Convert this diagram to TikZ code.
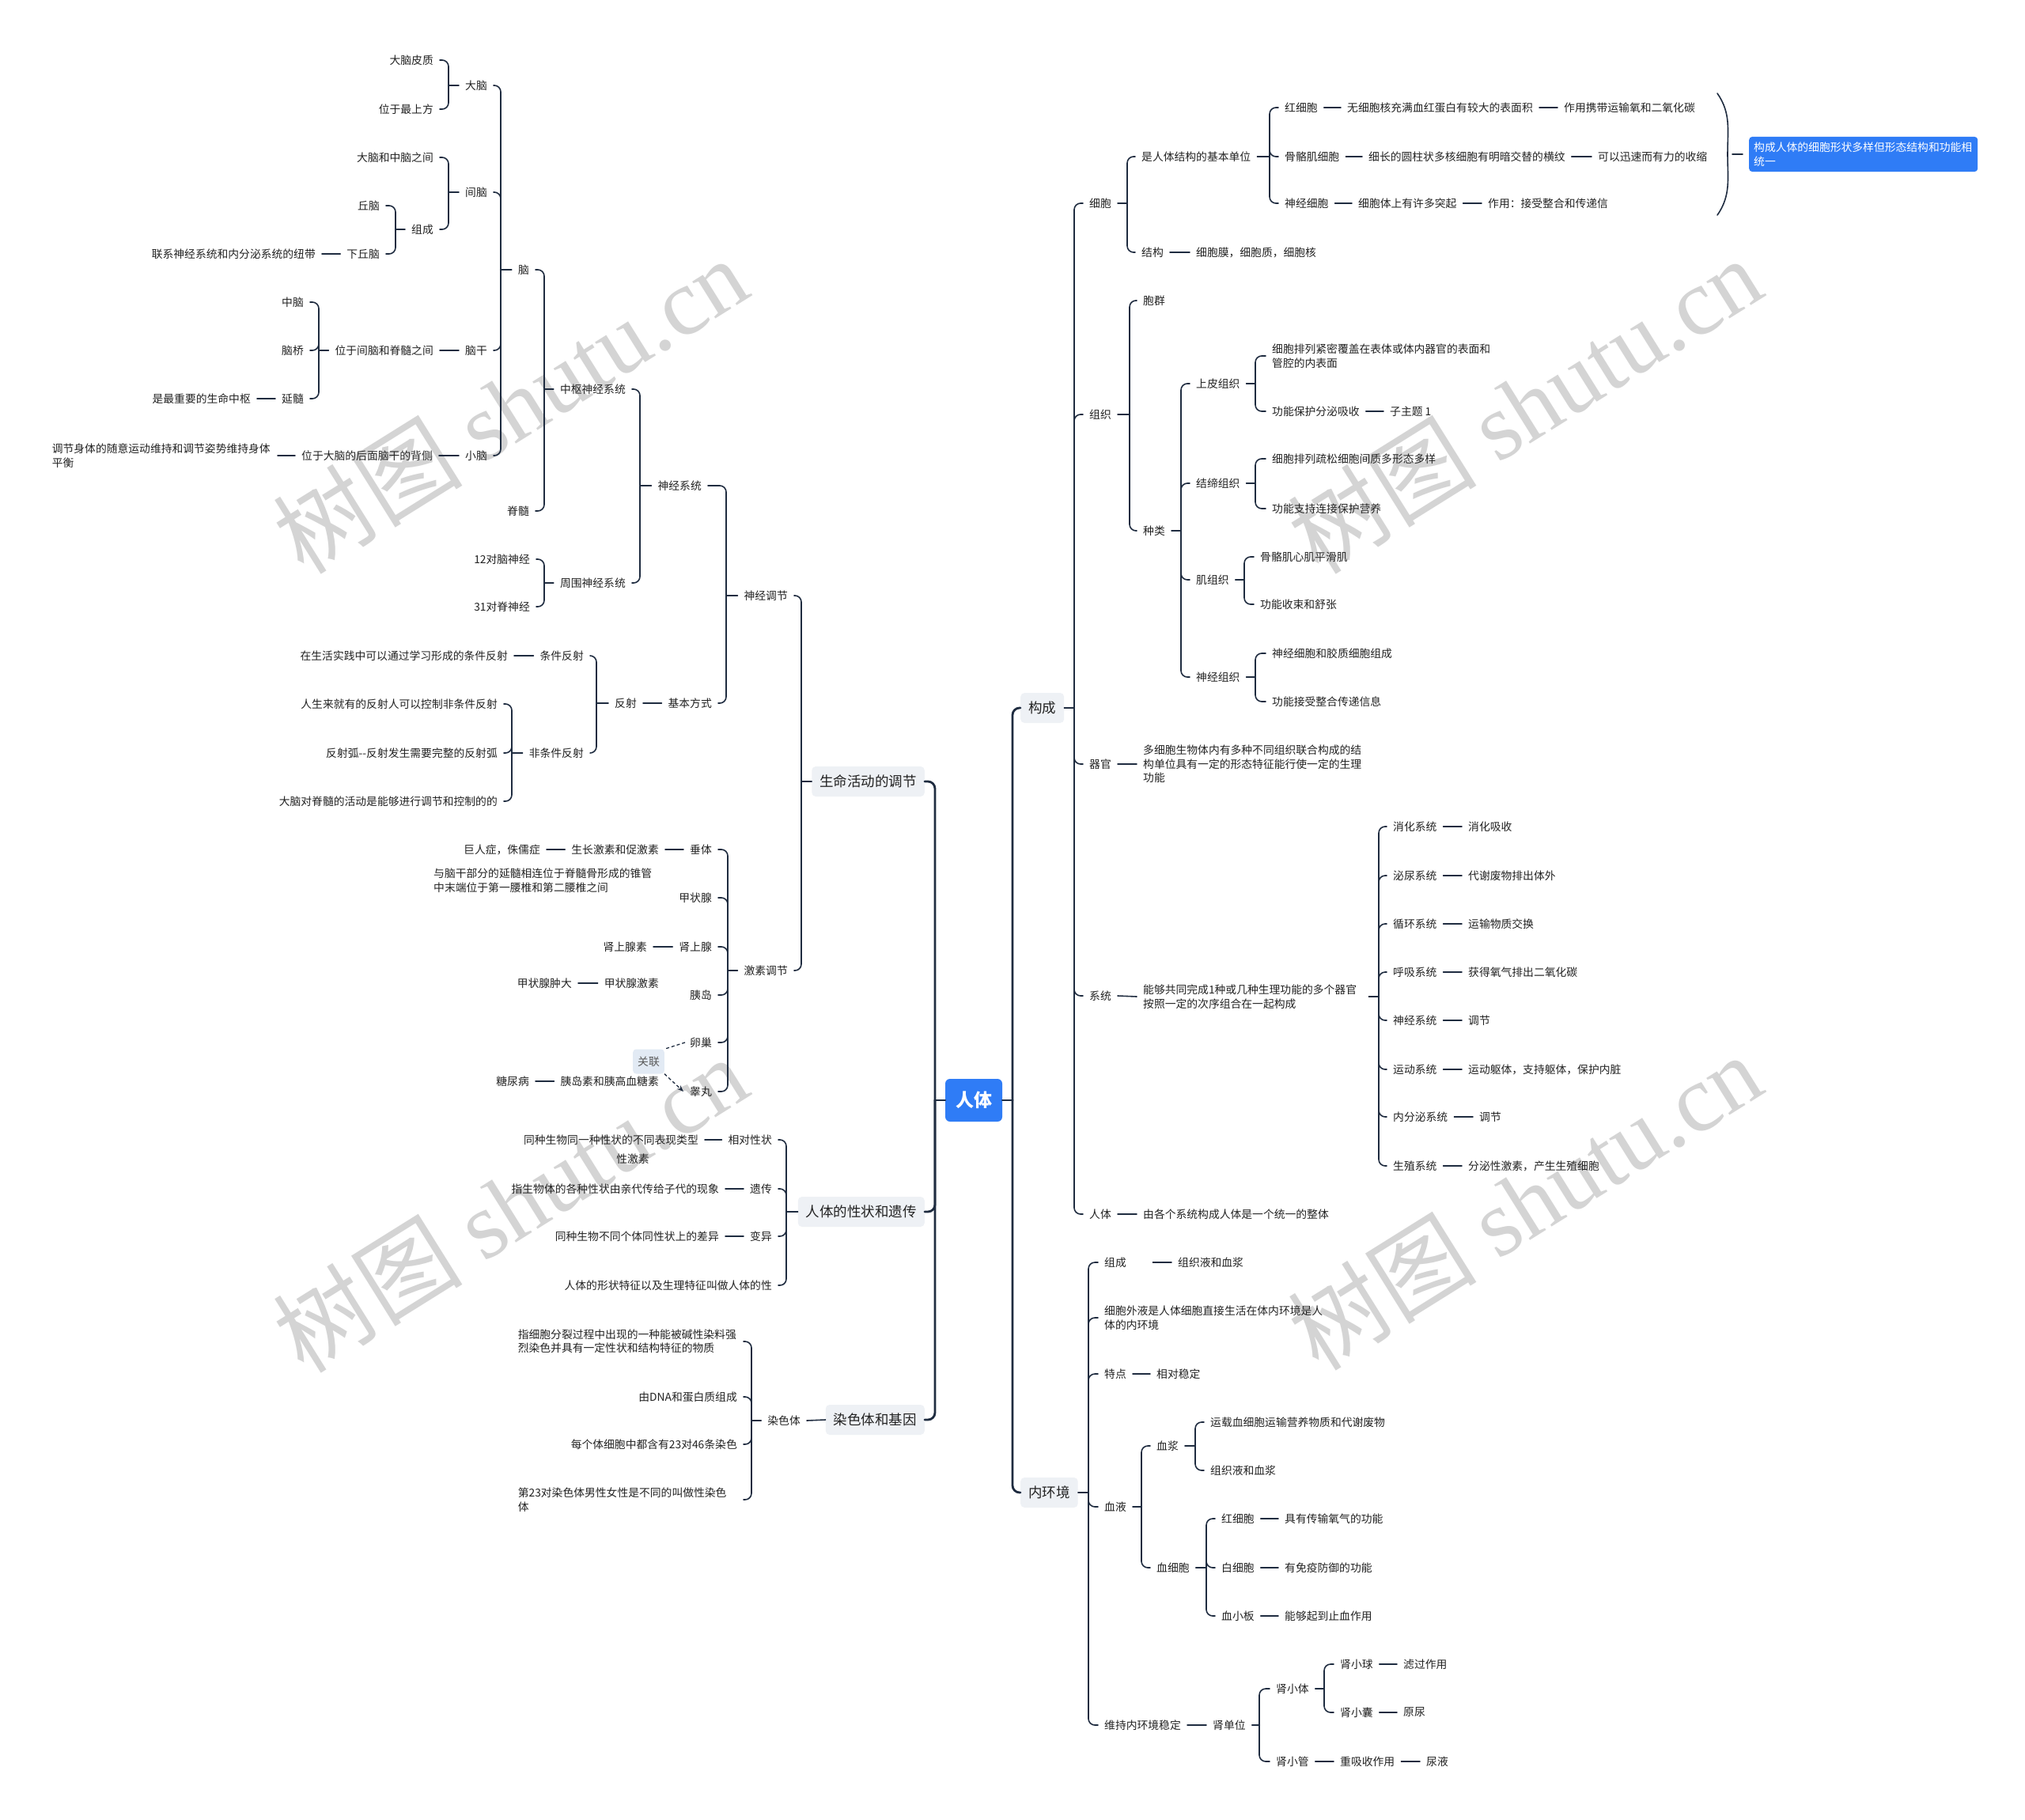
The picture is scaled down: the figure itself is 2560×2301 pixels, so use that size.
\documentclass[tikz,border=0pt]{standalone}
\usepackage{fontspec}
\setmainfont{Noto Sans CJK SC}
\newfontfamily\wmserif{Liberation Serif}
\usetikzlibrary{arrows.meta}
\definecolor{lc}{HTML}{1F2C40}
\definecolor{tc}{HTML}{222222}
\definecolor{boxfill}{HTML}{EEF1F5}
\definecolor{blueone}{HTML}{2F7CF6}
\definecolor{wmc}{HTML}{D4D4D4}
\definecolor{glfill}{HTML}{E2EAF4}
\tikzset{
 txt/.style={font=\fontsize{13.8}{17.5}\selectfont, inner sep=0pt, text=tc},
 L/.style={txt, anchor=east},
 R/.style={txt, anchor=west},
 wrap/.style={text width=277pt, align=left},
 lvl/.style={font=\fontsize{17.5}{21}\selectfont, fill=boxfill, rounded corners=5pt, inner xsep=10pt, inner ysep=0pt, minimum height=38pt, text=tc},
 rootbox/.style={font=\fontsize{23}{26}\selectfont\bfseries, fill=blueone, text=white, rounded corners=6pt, minimum width=72pt, minimum height=54pt, inner sep=0pt},
 conn/.style={draw=lc, line width=1.6pt, line cap=round},
 mainconn/.style={draw=lc, line width=2.8pt, line cap=round, rounded corners=9pt},
 wm/.style={font=\fontsize{120}{120}\selectfont, text=wmc, inner sep=0pt},
 dashconn/.style={draw=lc, line width=1.3pt, dash pattern=on 4pt off 3pt},
}
\newcommand\lbr[4][8pt]{%
 \coordinate (sp) at (#3,0);
 \draw[conn] ([xshift=-#1]#2.west) -- (#2.west -| sp);
 \foreach \kid in {#4}{\draw[conn,rounded corners=8pt] (#2.west -| sp) |- ([xshift=8pt]\kid.east);}%
}
\newcommand\rbr[4][8pt]{%
 \coordinate (sp) at (#3,0);
 \draw[conn] ([xshift=#1]#2.east) -- (#2.east -| sp);
 \foreach \kid in {#4}{\draw[conn,rounded corners=8pt] (#2.east -| sp) |- ([xshift=-8pt]\kid.west);}%
}
\newcommand\ldash[2]{\draw[conn] ([xshift=-8pt]#1.west) -- ([xshift=8pt]#2.east);}
\newcommand\rdash[2]{\draw[conn] ([xshift=8pt]#1.east) -- ([xshift=-8pt]#2.west);}
\begin{document}
\begin{tikzpicture}[x=1pt,y=-1pt]
\useasboundingbox (0,0) rectangle (2560,2301);
\fill[white] (0,0) rectangle (2560,2301);
% watermarks
\node[wm, rotate=32] (wm1) at (645,512) {树图 {\wmserif shutu.cn}};
\node[wm, rotate=32] (wm2) at (645,1522) {树图 {\wmserif shutu.cn}};
\node[wm, rotate=32] (wm3) at (1927,512) {树图 {\wmserif shutu.cn}};
\node[wm, rotate=32] (wm4) at (1927,1519) {树图 {\wmserif shutu.cn}};

% root and level 1
\node[rootbox] (R) at (1231,1391) {人体};
\node[lvl,anchor=east] (A) at (1169,988) {生命活动的调节};
\node[lvl,anchor=east] (B) at (1169,1532) {人体的性状和遗传};
\node[lvl,anchor=east] (C) at (1169,1795) {染色体和基因};
\node[lvl,anchor=west] (D) at (1290,895) {构成};
\node[lvl,anchor=west] (E) at (1290,1887) {内环境};

% ---------- left: 生命活动的调节
\node[L] (a1) at (996,753) {神经调节};
\node[L] (a2) at (996,1227) {激素调节};
\node[L] (b1) at (887,614) {神经系统};
\node[L] (b2) at (900,889) {基本方式};
\node[L] (c1) at (791,492) {中枢神经系统};
\node[L] (c2) at (791,737) {周围神经系统};
\node[L] (d1) at (669,341) {脑};
\node[L] (d2) at (669,646) {脊髓};
\node[L] (e1) at (616,108) {大脑};
\node[L] (e2) at (616,243) {间脑};
\node[L] (e3) at (616,443) {脑干};
\node[L] (e4) at (616,576) {小脑};
\node[L] (f1) at (548,76) {大脑皮质};
\node[L] (f2) at (548,138) {位于最上方};
\node[L] (f3) at (548,199) {大脑和中脑之间};
\node[L] (zc) at (548,290) {组成};
\node[L] (g1) at (480,260) {丘脑};
\node[L] (g2) at (480,321) {下丘脑};
\node[L] (g3) at (399,321) {联系神经系统和内分泌系统的纽带};
\node[L] (h1) at (548,443) {位于间脑和脊髓之间};
\node[L] (h2) at (384,382) {中脑};
\node[L] (h3) at (384,443) {脑桥};
\node[L] (h4) at (384,504) {延髓};
\node[L] (h5) at (317,504) {是最重要的生命中枢};
\node[L] (i1) at (547,576) {位于大脑的后面脑干的背侧};
\node[L,wrap] (i2) at (343,576) {调节身体的随意运动维持和调节姿势维持身体\\平衡};
\node[L] (j1) at (670,707) {12对脑神经};
\node[L] (j2) at (670,767) {31对脊神经};
\node[L] (k1) at (805,889) {反射};
\node[L] (k2) at (738,829) {条件反射};
\node[L] (k3) at (738,952) {非条件反射};
\node[L] (k4) at (642,829) {在生活实践中可以通过学习形成的条件反射};
\node[L] (k5) at (629,890) {人生来就有的反射人可以控制非条件反射};
\node[L] (k6) at (629,952) {反射弧{-}{-}反射发生需要完整的反射弧};
\node[L] (k7) at (629,1013) {大脑对脊髓的活动是能够进行调节和控制的的};
\node[L] (m1) at (900,1074) {垂体};
\node[L] (m2) at (900,1135) {甲状腺};
\node[L] (m3) at (900,1197) {肾上腺};
\node[L] (m4) at (900,1258) {胰岛};
\node[L] (m5) at (900,1318) {卵巢};
\node[L] (m6) at (900,1380) {睾丸};
\node[L] (m7) at (833,1074) {生长激素和促激素};
\node[L] (m8) at (683,1074) {巨人症，侏儒症};
\node[L] (m9) at (818,1197) {肾上腺素};
\node[L] (n1) at (833,1243) {甲状腺激素};
\node[L] (n2) at (723,1243) {甲状腺肿大};
\node[L] (n3) at (833,1367) {胰岛素和胰高血糖素};
\node[L] (n4) at (669,1367) {糖尿病};
\node[R,wrap] (n5) at (548,1113) {与脑干部分的延髓相连位于脊髓骨形成的锥管\\中末端位于第一腰椎和第二腰椎之间};
\node[txt] (n6) at (800,1465) {性激素};
\node[txt, fill=glfill, rounded corners=4pt, inner xsep=6pt, minimum height=31pt, text=black!65] (gl) at (820,1342) {关联};

% ---------- left: 人体的性状和遗传
\node[L] (p1) at (976,1441) {相对性状};
\node[L] (p2) at (976,1503) {遗传};
\node[L] (p3) at (976,1563) {变异};
\node[L] (p4) at (976,1625) {人体的形状特征以及生理特征叫做人体的性};
\node[L] (p5) at (883,1441) {同种生物同一种性状的不同表现类型};
\node[L] (p6) at (909,1503) {指生物体的各种性状由亲代传给子代的现象};
\node[L] (p7) at (909,1563) {同种生物不同个体同性状上的差异};

% ---------- left: 染色体和基因
\node[L] (q1) at (1012,1796) {染色体};
\node[L,wrap] (q2) at (932,1696) {指细胞分裂过程中出现的一种能被碱性染料强\\烈染色并具有一定性状和结构特征的物质};
\node[L] (q3) at (932,1766) {由DNA和蛋白质组成};
\node[L] (q4) at (932,1826) {每个体细胞中都含有23对46条染色};
\node[L,wrap] (q5) at (932,1896) {第23对染色体男性女性是不同的叫做性染色\\体};

% ---------- right: 构成
\node[R] (r1) at (1377,257) {细胞};
\node[R] (r2) at (1377,524) {组织};
\node[R] (r3) at (1377,966) {器官};
\node[R] (r4) at (1377,1259) {系统};
\node[R] (r5) at (1377,1535) {人体};
\node[R] (s1) at (1443,198) {是人体结构的基本单位};
\node[R] (s2) at (1443,319) {结构};
\node[R] (s3) at (1512,319) {细胞膜，细胞质，细胞核};
\node[R] (s4) at (1624,136) {红细胞};
\node[R] (s5) at (1624,198) {骨骼肌细胞};
\node[R] (s6) at (1624,257) {神经细胞};
\node[R] (s7) at (1703,136) {无细胞核充满血红蛋白有较大的表面积};
\node[R] (s8) at (1977,136) {作用携带运输氧和二氧化碳};
\node[R] (s9) at (1730,198) {细长的圆柱状多核细胞有明暗交替的横纹};
\node[R] (s10) at (2020,198) {可以迅速而有力的收缩};
\node[R] (s11) at (1717,257) {细胞体上有许多突起};
\node[R] (s12) at (1881,257) {作用：接受整合和传递信};
\node[R, wrap, fill=blueone, text=white, rounded corners=4pt, inner xsep=6pt, inner ysep=7pt] (sum) at (2211,195) {构成人体的细胞形状多样但形态结构和功能相\\统一};
\node[R] (t1) at (1445,380) {胞群};
\node[R] (t2) at (1445,671) {种类};
\node[R] (t3) at (1512,485) {上皮组织};
\node[R] (t4) at (1512,611) {结缔组织};
\node[R] (t5) at (1512,733) {肌组织};
\node[R] (t6) at (1512,856) {神经组织};
\node[R,wrap] (t7) at (1608,450) {细胞排列紧密覆盖在表体或体内器官的表面和\\管腔的内表面};
\node[R] (t8) at (1608,520) {功能保护分泌吸收};
\node[R] (t9) at (1757,520) {子主题 1};
\node[R] (t10) at (1608,580) {细胞排列疏松细胞间质多形态多样};
\node[R] (t11) at (1608,643) {功能支持连接保护营养};
\node[R] (t12) at (1593,704) {骨骼肌心肌平滑肌};
\node[R] (t13) at (1593,764) {功能收束和舒张};
\node[R] (t14) at (1608,826) {神经细胞和胶质细胞组成};
\node[R] (t15) at (1608,887) {功能接受整合传递信息};
\node[R,wrap] (u1) at (1445,966) {多细胞生物体内有多种不同组织联合构成的结\\构单位具有一定的形态特征能行使一定的生理\\功能};
\node[R,wrap] (u2) at (1445,1260) {能够共同完成1种或几种生理功能的多个器官\\按照一定的次序组合在一起构成};
\node[R] (u3) at (1445,1535) {由各个系统构成人体是一个统一的整体};
\node[R] (v1) at (1761,1045) {消化系统};
\node[R] (v2) at (1761,1107) {泌尿系统};
\node[R] (v3) at (1761,1168) {循环系统};
\node[R] (v4) at (1761,1229) {呼吸系统};
\node[R] (v5) at (1761,1290) {神经系统};
\node[R] (v6) at (1761,1352) {运动系统};
\node[R] (v7) at (1761,1412) {内分泌系统};
\node[R] (v8) at (1761,1474) {生殖系统};
\node[R] (w1) at (1856,1045) {消化吸收};
\node[R] (w2) at (1856,1107) {代谢废物排出体外};
\node[R] (w3) at (1856,1168) {运输物质交换};
\node[R] (w4) at (1856,1229) {获得氧气排出二氧化碳};
\node[R] (w5) at (1856,1290) {调节};
\node[R] (w6) at (1856,1352) {运动躯体，支持躯体，保护内脏};
\node[R] (w7) at (1870,1412) {调节};
\node[R] (w8) at (1856,1474) {分泌性激素，产生生殖细胞};

% ---------- right: 内环境
\node[R, text width=53pt, align=left] (x1) at (1396,1596) {组成};
\node[R] (x2) at (1489,1596) {组织液和血浆};
\node[R,wrap] (x3) at (1396,1666) {细胞外液是人体细胞直接生活在体内环境是人\\体的内环境};
\node[R] (x4) at (1396,1737) {特点};
\node[R] (x5) at (1462,1737) {相对稳定};
\node[R] (x6) at (1396,1905) {血液};
\node[R] (x7) at (1396,2181) {维持内环境稳定};
\node[R] (y1) at (1462,1828) {血浆};
\node[R] (y2) at (1462,1982) {血细胞};
\node[R] (y3) at (1530,1798) {运载血细胞运输营养物质和代谢废物};
\node[R] (y4) at (1530,1859) {组织液和血浆};
\node[R] (y5) at (1544,1920) {红细胞};
\node[R] (y6) at (1544,1982) {白细胞};
\node[R] (y7) at (1544,2043) {血小板};
\node[R] (y8) at (1624,1920) {具有传输氧气的功能};
\node[R] (y9) at (1624,1982) {有免疫防御的功能};
\node[R] (y10) at (1624,2043) {能够起到止血作用};
\node[R] (z1) at (1533,2181) {肾单位};
\node[R] (z2) at (1613,2135) {肾小体};
\node[R] (z3) at (1613,2227) {肾小管};
\node[R] (z4) at (1694,2104) {肾小球};
\node[R] (z5) at (1694,2165) {肾小囊};
\node[R] (z6) at (1774,2104) {滤过作用};
\node[R] (z7) at (1774,2165) {原尿};
\node[R] (z8) at (1694,2227) {重吸收作用};
\node[R] (z9) at (1803,2227) {尿液};

% ================= connectors
\coordinate (rl) at (1182,0);
\draw[mainconn] (R.west) -- (R.west -| rl);
\foreach \kid in {A,B,C}{\draw[mainconn] (R.west -| rl) |- (\kid.east);}
\coordinate (rr) at (1280,0);
\draw[mainconn] (R.east) -- (R.east -| rr);
\foreach \kid in {D,E}{\draw[mainconn] (R.east -| rr) |- (\kid.west);}

% left
\lbr[0pt]{A}{1013}{a1,a2}
\lbr{a1}{918}{b1,b2}
\lbr{b1}{809}{c1,c2}
\lbr{c1}{688}{d1,d2}
\lbr{d1}{633}{e1,e2,e3,e4}
\lbr{e1}{567}{f1,f2}
\lbr{e2}{567}{f3,zc}
\lbr{zc}{500}{g1,g2}
\ldash{g2}{g3}
\ldash{e3}{h1}
\lbr{h1}{403}{h2,h3,h4}
\ldash{h4}{h5}
\ldash{e4}{i1}
\ldash{i1}{i2}
\lbr{c2}{688}{j1,j2}
\ldash{b2}{k1}
\lbr{k1}{754}{k2,k3}
\ldash{k2}{k4}
\lbr{k3}{647}{k5,k6,k7}
\lbr{a2}{920}{m1,m2,m3,m4,m5,m6}
\ldash{m1}{m7}
\ldash{m7}{m8}
\ldash{m3}{m9}
\ldash{n1}{n2}
\ldash{n3}{n4}
\draw[dashconn] ([xshift=-6pt]m5.west) -- (gl.north east);
\draw[dashconn, -{Stealth[length=8pt,width=6pt]}] (gl.south east) -- ([xshift=-8pt]m6.west);
\lbr[0pt]{B}{994}{p1,p2,p3,p4}
\ldash{p1}{p5}
\ldash{p2}{p6}
\ldash{p3}{p7}
\draw[conn] (C.west) -- ([xshift=8pt]q1.east);
\lbr{q1}{950}{q2,q3,q4,q5}

% right
\rbr[0pt]{D}{1358}{r1,r2,r3,r4,r5}
\rbr{r1}{1425}{s1,s2}
\rdash{s2}{s3}
\rbr{s1}{1605}{s4,s5,s6}
\rdash{s4}{s7}
\rdash{s7}{s8}
\rdash{s5}{s9}
\rdash{s9}{s10}
\rdash{s6}{s11}
\rdash{s11}{s12}
\coordinate (bt) at (2171,118);
\coordinate (bm) at (2184,195);
\coordinate (bb) at (2171,272);
\draw[conn] (bt) to[out=-55,in=90] (bm) to[out=-90,in=55] (bb);
\draw[conn] ([xshift=6pt]bm) -- ([xshift=-8pt]sum.west);
\rbr{r2}{1428}{t1,t2}
\rbr{t2}{1493}{t3,t4,t5,t6}
\rbr{t3}{1587}{t7,t8}
\rdash{t8}{t9}
\rbr{t4}{1587}{t10,t11}
\rbr{t5}{1573}{t12,t13}
\rbr{t6}{1587}{t14,t15}
\rdash{r3}{u1}
\rdash{r4}{u2}
\rbr{u2}{1743}{v1,v2,v3,v4,v5,v6,v7,v8}
\rdash{v1}{w1}
\rdash{v2}{w2}
\rdash{v3}{w3}
\rdash{v4}{w4}
\rdash{v5}{w5}
\rdash{v6}{w6}
\rdash{v7}{w7}
\rdash{v8}{w8}
\rdash{r5}{u3}
\rbr[0pt]{E}{1376}{x1,x3,x4,x6,x7}
\rdash{x1}{x2}
\rdash{x4}{x5}
\rbr{x6}{1443}{y1,y2}
\rbr{y1}{1511}{y3,y4}
\rbr{y2}{1525}{y5,y6,y7}
\rdash{y5}{y8}
\rdash{y6}{y9}
\rdash{y7}{y10}
\rdash{x7}{z1}
\rbr{z1}{1592}{z2,z3}
\rbr{z2}{1674}{z4,z5}
\rdash{z4}{z6}
\rdash{z5}{z7}
\rdash{z3}{z8}
\rdash{z8}{z9}
\end{tikzpicture}
\end{document}
